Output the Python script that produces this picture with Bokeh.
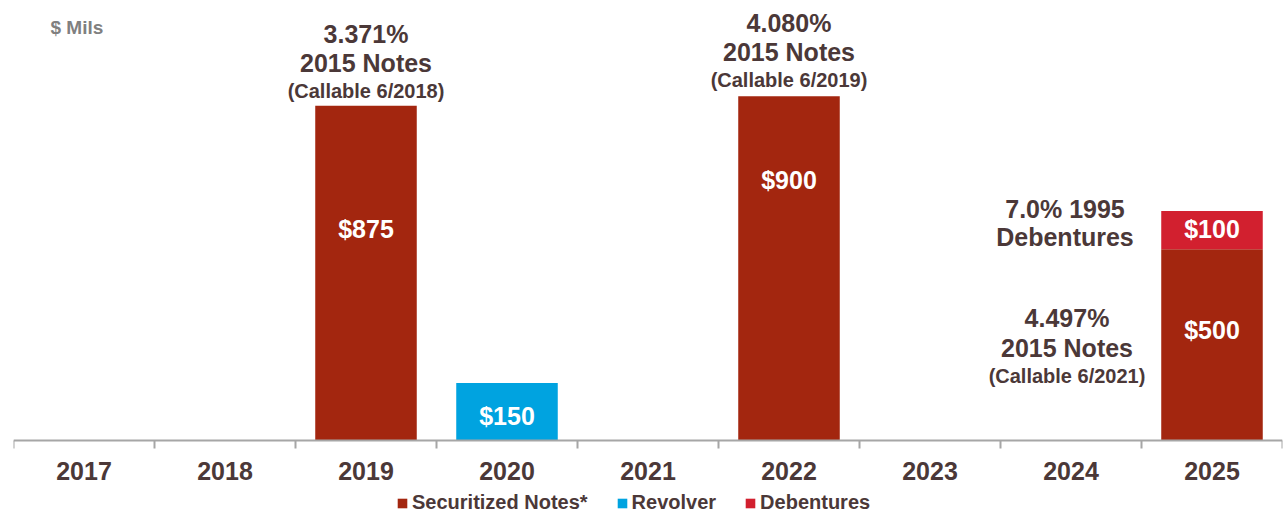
from bokeh.plotting import figure
from bokeh.models import ColumnDataSource, Range1d, FixedTicker, Legend, LegendItem
from bokeh.embed import file_html
from bokeh.resources import INLINE
from bokeh.core.properties import value

# ---------------- data ----------------
years = ["2017", "2018", "2019", "2020", "2021", "2022", "2023", "2024", "2025"]
securitized = [0, 0, 875, 0, 0, 900, 0, 0, 500]
revolver = [0, 0, 0, 150, 0, 0, 0, 0, 0]
debentures = [0, 0, 0, 0, 0, 0, 0, 0, 100]
series_names = ["Securitized Notes*", "Revolver", "Debentures"]

note_2019 = ["3.371%", "2015 Notes", "(Callable 6/2018)"]
note_2022 = ["4.080%", "2015 Notes", "(Callable 6/2019)"]
note_2025_deb = ["7.0% 1995", "Debentures"]
note_2025_sec = ["4.497%", "2015 Notes", "(Callable 6/2021)"]

# ---------------- style ----------------
FONT = "Liberation Sans"
TXT = "#4B3838"
COLORS = ["#A3260F", "#00A3E0", "#D2202F"]

xs = [i + 0.5 for i in range(len(years))]
src = ColumnDataSource(dict(x=xs, years=years, sec=securitized, rev=revolver, deb=debentures))

p = figure(width=1283, height=514, output_backend="svg", toolbar_location=None,
           x_range=Range1d(0, len(years)), y_range=Range1d(-193.5, 1150),
           y_axis_location=None, min_border_left=13, min_border_right=1,
           min_border_top=0, min_border_bottom=0)
p.outline_line_color = None
p.xgrid.visible = False
p.ygrid.visible = False
p.background_fill_color = "white"
p.border_fill_color = "white"

rs = p.vbar_stack(["sec", "rev", "deb"], x="x", width=0.72, color=COLORS,
                  line_color=None, source=src)

# axis (drawn at y = 0 inside the frame)
ax = p.xaxis[0]
ax.fixed_location = 0
ax.ticker = FixedTicker(ticks=xs, minor_ticks=list(range(len(years) + 1)))
ax.major_label_overrides = {x: y for x, y in zip(xs, years)}
ax.axis_line_color = "#A6A6A6"
ax.axis_line_width = 2
ax.major_tick_line_color = None
ax.major_tick_out = 0
ax.major_tick_in = 0
ax.minor_tick_line_color = "#A6A6A6"
ax.minor_tick_line_width = 2
ax.minor_tick_out = 8
ax.minor_tick_in = 0
ax.major_label_text_font = FONT
ax.major_label_text_font_style = "bold"
ax.major_label_text_font_size = "25px"
ax.major_label_text_color = TXT
ax.major_label_standoff = 14

# value labels inside bars
vx, vy, vt, voff = [], [], [], []
seg_offsets = {("sec", 2): 123, ("sec", 5): 84, ("rev", 3): 33, ("sec", 8): 81, ("deb", 8): 18}
for i in range(len(years)):
    base = 0
    for key, arr in (("sec", securitized), ("rev", revolver), ("deb", debentures)):
        v = arr[i]
        if v > 0:
            top = base + v
            vx.append(xs[i]); vy.append(top); vt.append("$%d" % v)
            voff.append(seg_offsets.get((key, i), 20))
        base += v
p.text(x=vx, y=vy, text=vt, y_offset=voff, text_align="center", text_baseline="middle",
       text_font=value(FONT), text_font_style="bold", text_font_size="25px", text_color="white")

# notes above bars
def note(lines, xi, ytop, offsets, sizes, x_off=0):
    for line, off, sz in zip(lines, offsets, sizes):
        p.text(x=[xi], y=[ytop], text=[line], x_offset=x_off, y_offset=off,
               text_align="center", text_baseline="middle", text_font=value(FONT),
               text_font_style="bold", text_font_size=sz, text_color=TXT)

note(note_2019, xs[2], securitized[2], [-72, -43, -15], ["25px", "25px", "20px"])
note(note_2022, xs[5], securitized[5], [-73, -44, -16], ["25px", "25px", "20px"])
top_2025 = securitized[8] + debentures[8]
note(note_2025_deb, xs[7], top_2025, [-2, 26], ["25px", "25px"], x_off=-6)
note(note_2025_sec, xs[7], securitized[8], [69, 99, 127], ["25px", "25px", "20px"], x_off=-4)

# $ Mils
p.text(x=[0], y=[p.y_range.end], text=["$ Mils"], x_offset=37, y_offset=27,
       text_align="left", text_baseline="middle", text_font=value(FONT),
       text_font_style="bold", text_font_size="19px", text_color="#808080")

# legend (inside the frame, below the axis)
legend = Legend(items=[LegendItem(label=n, renderers=[r]) for n, r in zip(series_names, rs)],
                orientation="horizontal", location=(383, 0),
                glyph_width=12, glyph_height=12, label_standoff=4, spacing=28,
                padding=0, margin=0, border_line_color=None, background_fill_alpha=0,
                label_text_font=FONT, label_text_font_style="bold",
                label_text_font_size="20px", label_text_color=TXT)
p.add_layout(legend, "center")

open("out.html", "w").write(file_html(p, INLINE))
